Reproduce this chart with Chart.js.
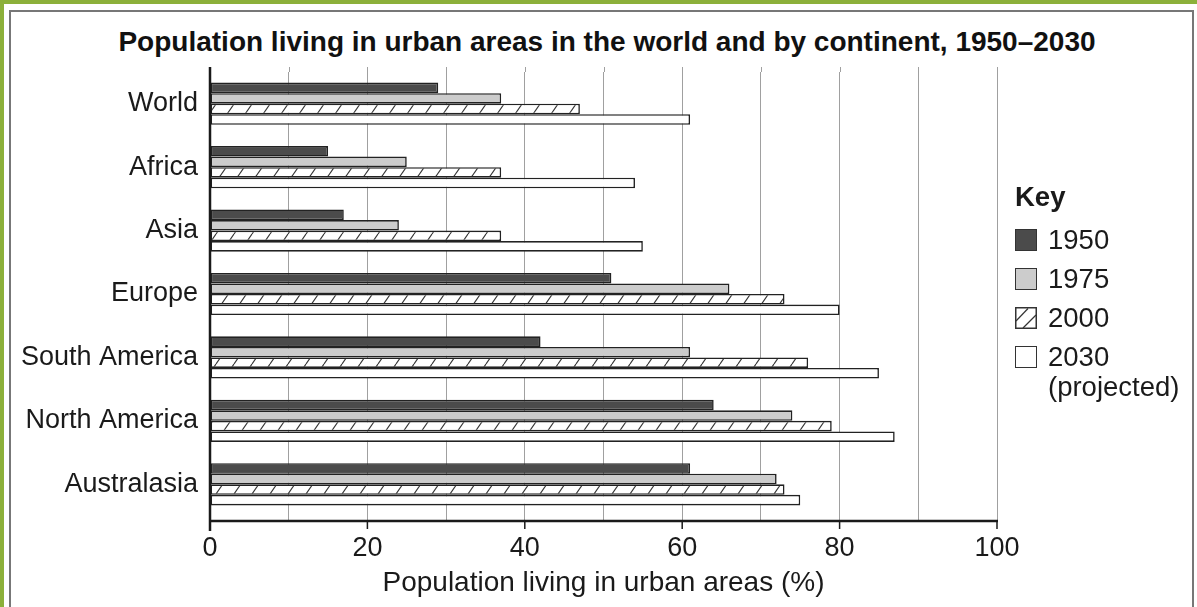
<!DOCTYPE html>
<html>
<head>
<meta charset="utf-8">
<script src="https://cdn.jsdelivr.net/npm/chart.js@4.4.1/dist/chart.umd.min.js"></script>
<style>
  html, body { margin: 0; padding: 0; background: #fff; overflow: hidden; }
  #wrap { position: relative; width: 1197px; height: 607px; font-family: 'Liberation Sans', Arial, sans-serif; color: #1a1a1a; }
  #green { position: absolute; left: 0; top: 0; width: 1197px; height: 620px; border-top: 4px solid #8cb03a; border-left: 4px solid #8cb03a; box-sizing: border-box; }
  #frame { position: absolute; left: 9px; top: 10px; width: 1185px; height: 620px; border: 2px solid #777; border-bottom: none; box-sizing: border-box; }
  #title { position: absolute; left: 0; top: 25px; width: 1214px; text-align: center; font-size: 28px; font-weight: bold; line-height: 34px; color: #111; white-space: nowrap; }
  canvas { position: absolute; left: 0; top: 0; }
  #key { position: absolute; left: 1015px; top: 180px; font-size: 27.5px; }
  #key .head { font-weight: bold; height: 34px; line-height: 34px; margin-bottom: 6px; }
  #key .row { display: flex; align-items: center; height: 39px; }
  #key .box { width: 22px; height: 22px; margin-right: 11px; box-sizing: border-box; border: 1.5px solid #333; }
  #key .sub { padding-left: 33px; line-height: 30px; margin-top: -4px; }
</style>
</head>
<body>
<div id="wrap">
  <div id="green"></div>
  <div id="frame"></div>
  <div id="title">Population living in urban areas in the world and by continent, 1950&#8211;2030</div>
  <canvas id="chart" width="1197" height="607"></canvas>
  <div id="key">
    <div class="head">Key</div>
    <div class="row"><div class="box" style="background:#4b4b4b"></div>1950</div>
    <div class="row"><div class="box" style="background:#cccccc"></div>1975</div>
    <div class="row"><svg class="box" style="border:none;padding:0" width="22" height="22" viewBox="0 0 22 22"><rect x="0.75" y="0.75" width="20.5" height="20.5" fill="#fff" stroke="#333" stroke-width="1.5"/><line x1="1" y1="14" x2="13" y2="1.5" stroke="#333" stroke-width="1.2"/><line x1="8" y1="21" x2="21" y2="8" stroke="#333" stroke-width="1.2"/></svg>2000</div>
    <div class="row"><div class="box" style="background:#fff"></div>2030</div>
    <div class="sub">(projected)</div>
  </div>
</div>
<script>
// Data
const continents = ['World', 'Africa', 'Asia', 'Europe', 'South America', 'North America', 'Australasia'];
const urban1950 = [29, 15, 17, 51, 42, 64, 61];
const urban1975 = [37, 25, 24, 66, 61, 74, 72];
const urban2000 = [47, 37, 37, 73, 76, 79, 73];
const urban2030 = [61, 54, 55, 80, 85, 87, 75];
const tickLabels = [0, 20, 40, 60, 80, 100];

Chart.defaults.font.family = "'Liberation Sans', Arial, sans-serif";
Chart.defaults.color = '#1a1a1a';

// hatch pattern for 2000 bars
const makeHatch = () => {
  const c = document.createElement('canvas');
  c.width = 18; c.height = 26;
  const g = c.getContext('2d');
  g.fillStyle = '#fff';
  g.fillRect(0, 0, 18, 26);
  g.strokeStyle = '#333';
  g.lineWidth = 1.1;
  [-18, 0, 18].forEach(dx => {
    g.beginPath();
    g.moveTo(dx, 26);
    g.lineTo(dx + 18, 0);
    g.stroke();
  });
  return g.createPattern(c, 'repeat');
};

// axis lines drawn a little outside the plot like the print
const axisLines = {
  id: 'axisLines',
  beforeDatasetsDraw(chart) {
    const { ctx, chartArea: { top }, scales: { x } } = chart;
    ctx.save();
    ctx.strokeStyle = '#a0a0a0';
    ctx.lineWidth = 1;
    x.ticks.forEach(t => {
      const px = Math.round(x.getPixelForValue(t.value)) + 0.5;
      ctx.beginPath();
      ctx.moveTo(px, top - 5);
      ctx.lineTo(px, top);
      ctx.stroke();
    });
    ctx.restore();
  },
  afterDatasetsDraw(chart) {
    const { ctx, chartArea: { left, right, top, bottom }, scales: { x } } = chart;
    ctx.save();
    ctx.strokeStyle = '#1a1a1a';
    ctx.lineWidth = 2.5;
    ctx.beginPath();
    ctx.moveTo(left, top - 5);
    ctx.lineTo(left, bottom + 15);
    ctx.moveTo(left, bottom + 5);
    ctx.lineTo(right + 1, bottom + 5);
    ctx.stroke();
    ctx.lineWidth = 1.5;
    tickLabels.forEach(v => {
      const px = x.getPixelForValue(v);
      ctx.beginPath();
      ctx.moveTo(px, bottom + 5);
      ctx.lineTo(px, bottom + 13);
      ctx.stroke();
    });
    ctx.restore();
  }
};

const barStyle = { borderColor: '#222', borderWidth: 1.6, borderSkipped: false, categoryPercentage: 0.665, barPercentage: 1.0 };

const ctx = document.getElementById('chart').getContext('2d');
const chart = new Chart(ctx, {
  type: 'bar',
  data: {
    labels: continents,
    datasets: [
      { label: '1950', data: urban1950, backgroundColor: '#4b4b4b', ...barStyle },
      { label: '1975', data: urban1975, backgroundColor: '#cccccc', ...barStyle },
      { label: '2000', data: urban2000, backgroundColor: makeHatch(), ...barStyle },
      { label: '2030 (projected)', data: urban2030, backgroundColor: '#ffffff', ...barStyle }
    ]
  },
  options: {
    indexAxis: 'y',
    responsive: false,
    animation: false,
    layout: { padding: { left: 18, right: 200, top: 72, bottom: 0 } },
    plugins: {
      legend: { display: false },
      tooltip: { enabled: false }
    },
    scales: {
      x: {
        min: 0,
        max: 100,
        ticks: {
          stepSize: 10,
          autoSkip: false,
          maxRotation: 0,
          padding: 11,
          font: { size: 27 },
          callback: v => tickLabels.includes(v) ? String(v) : ''
        },
        grid: { color: '#a0a0a0', lineWidth: 1, drawTicks: true, tickLength: 5 },
        border: { display: false },
        title: {
          display: true,
          text: 'Population living in urban areas (%)',
          font: { size: 28 },
          padding: { top: 4, bottom: 7 }
        },
        afterFit: s => { s.height = 91; }
      },
      y: {
        ticks: { padding: 12, font: { size: 27 } },
        grid: { display: false, drawTicks: false },
        border: { display: false },
        afterFit: s => { s.width = 192; }
      }
    }
  },
  plugins: [axisLines]
});
</script>
</body>
</html>
